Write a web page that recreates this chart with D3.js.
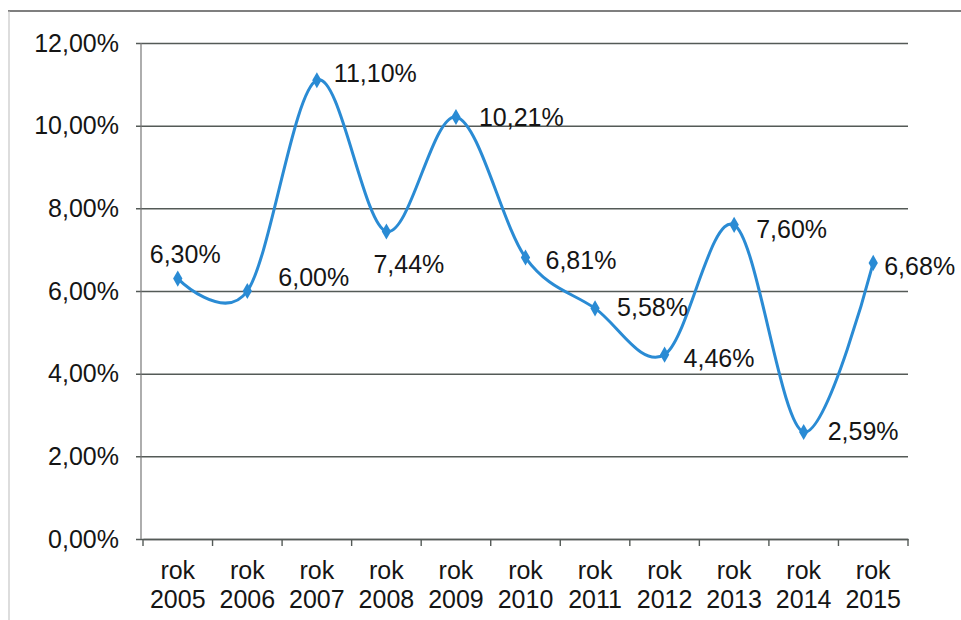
<!DOCTYPE html>
<html>
<head>
<meta charset="utf-8">
<script src="https://cdn.jsdelivr.net/npm/d3@7"></script>
<style>
  body { margin: 0; background: #fff; }
  svg { display: block; }
  .tick text { font-family: "Liberation Sans", Arial, sans-serif; }
</style>
</head>
<body>
<div id="chart"></div>
<script>
// data
var years = ["2005", "2006", "2007", "2008", "2009", "2010", "2011", "2012", "2013", "2014", "2015"];
var values = [6.30, 6.00, 11.10, 7.44, 10.21, 6.81, 5.58, 4.46, 7.60, 2.59, 6.68];
var yTicks = [0, 2, 4, 6, 8, 10, 12];

// where each data label sits relative to its point (dx = left edge, dy = baseline)
var labelDx = [-28, 31, 17, -13, 23, 20, 22, 19, 22, 24, 11];
var labelDy = [-16, -5, 2, 42, 9, 11, 8, 12, 13, 8, 12];

var width = 961, height = 620;
var margin = {top: 43, left: 143, right: 53, bottom: 81};
var lineColor = "#2a8bd4";
var textColor = "#151515";
var font = "'Liberation Sans', Arial, sans-serif";

var svg = d3.select("#chart").append("svg")
    .attr("width", width).attr("height", height);

// scanned frame
svg.append("line").attr("x1", 8).attr("x2", width).attr("y1", 11).attr("y2", 11)
    .attr("stroke", "#555").attr("stroke-width", 1.5);
svg.append("line").attr("x1", 9).attr("x2", 9).attr("y1", 11).attr("y2", height)
    .attr("stroke", "#bbb").attr("stroke-width", 1);

var xScale = d3.scaleBand().domain(years)
    .range([margin.left, width - margin.right]);
var yScale = d3.scaleLinear().domain([0, 12])
    .range([height - margin.bottom, margin.top]);

var fmt = function(v) { return v.toFixed(2).replace(".", ",") + "%"; };

// gridlines + y labels
var yAxis = d3.axisLeft(yScale)
    .tickValues(yTicks)
    .tickSize(-(width - margin.right - margin.left + 7))
    .tickPadding(17)
    .tickFormat(fmt);

var gy = svg.append("g")
    .attr("transform", "translate(" + (margin.left - 7) + ",0)")
    .call(yAxis);
gy.select(".domain").remove();
gy.selectAll(".tick line").attr("stroke", "#545a57").attr("stroke-width", 1.5);
gy.selectAll(".tick text").attr("font-size", 25).attr("fill", textColor)
    .attr("font-family", font);

// vertical axis line
svg.append("line")
    .attr("x1", margin.left - 2).attr("x2", margin.left - 2)
    .attr("y1", yScale(12)).attr("y2", yScale(0))
    .attr("stroke", "#777").attr("stroke-width", 1.2);

// x axis with ticks between categories
var xAxis = d3.axisBottom(xScale).tickSize(0).tickPadding(22).tickFormat("");
var gx = svg.append("g")
    .attr("transform", "translate(0," + yScale(0) + ")")
    .call(xAxis);
gx.select(".domain").attr("stroke", "#545a57").attr("stroke-width", 1.5);

var bounds = years.map(function(y) { return xScale(y); }).concat([xScale.range()[1]]);
gx.selectAll(".sep").data(bounds).enter().append("line")
    .attr("class", "sep")
    .attr("x1", function(d) { return d; }).attr("x2", function(d) { return d; })
    .attr("y1", 0).attr("y2", 7)
    .attr("stroke", "#545a57").attr("stroke-width", 1.4);

var xl = svg.append("g").selectAll("text").data(years).enter().append("text")
    .attr("x", function(d) { return xScale(d) + xScale.bandwidth() / 2; })
    .attr("y", yScale(0) + 40)
    .attr("text-anchor", "middle")
    .attr("font-family", font).attr("font-size", 25).attr("fill", textColor);
xl.append("tspan").attr("x", function(d) { return xScale(d) + xScale.bandwidth() / 2; })
    .text("rok");
xl.append("tspan").attr("x", function(d) { return xScale(d) + xScale.bandwidth() / 2; })
    .attr("dy", 29).text(function(d) { return d; });

// smoothed line
var pts = years.map(function(y, i) { return {year: y, v: values[i], i: i}; });
var cx = function(d) { return xScale(d.year) + xScale.bandwidth() / 2; };
var cy = function(d) { return yScale(d.v); };

var line = d3.line().x(cx).y(cy).curve(d3.curveCatmullRom.alpha(0));
svg.append("path").datum(pts)
    .attr("d", line)
    .attr("fill", "none")
    .attr("stroke", lineColor)
    .attr("stroke-width", 3);

svg.append("g").selectAll("path").data(pts).enter().append("path")
    .attr("d", d3.symbol().type(d3.symbolDiamond).size(75))
    .attr("transform", function(d) { return "translate(" + cx(d) + "," + cy(d) + ")"; })
    .attr("fill", lineColor);

// data labels
svg.append("g").selectAll("text").data(pts).enter().append("text")
    .attr("x", function(d) { return cx(d) + labelDx[d.i]; })
    .attr("y", function(d) { return cy(d) + labelDy[d.i]; })
    .attr("font-family", font).attr("font-size", 25).attr("fill", textColor)
    .text(function(d) { return fmt(d.v); });
</script>
</body>
</html>
